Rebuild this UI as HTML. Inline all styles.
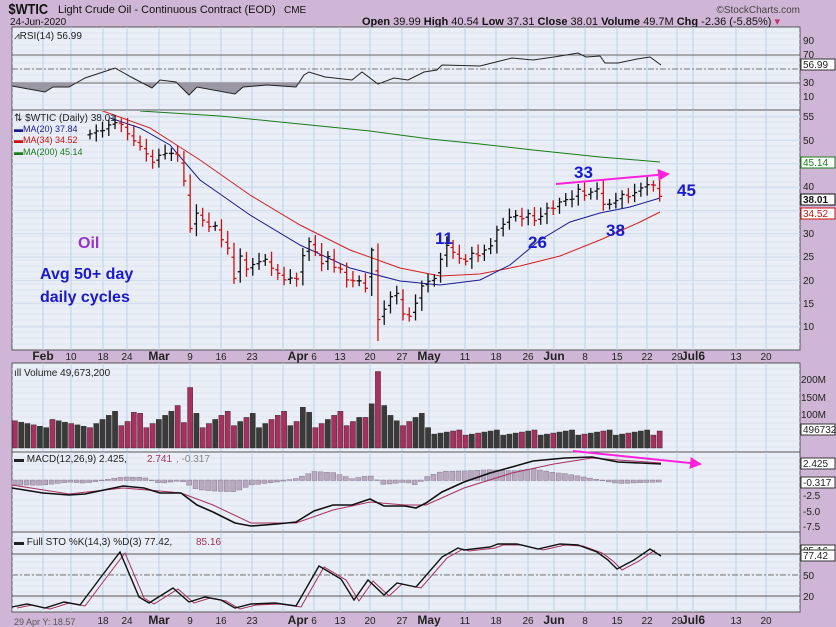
<!DOCTYPE html>
<html><head><meta charset="utf-8"><style>
html,body{margin:0;padding:0;background:#d0b6d6;}
svg{display:block;font-family:"Liberation Sans",sans-serif;}
</style></head><body>
<svg id="s" width="836" height="627" xmlns="http://www.w3.org/2000/svg">
<rect width="836" height="627" fill="#d0b6d6"/>
<g id="panels"></g>
<text x="10" y="14" font-size="15" font-weight="bold" fill="#111" transform="scale(0.85,1)">$WTIC</text>
<text x="58" y="13" font-size="11" fill="#111">Light Crude Oil - Continuous Contract (EOD)</text>
<text x="284" y="13" font-size="10" fill="#111">CME</text>
<text x="10" y="25" font-size="10" fill="#111">24-Jun-2020</text>
<text x="800" y="13" font-size="10" fill="#444" text-anchor="end">©StockCharts.com</text>
<text x="362" y="25" font-size="11" fill="#111"><tspan font-weight="bold">Open</tspan> 39.99 <tspan font-weight="bold">High</tspan> 40.54 <tspan font-weight="bold">Low</tspan> 37.31 <tspan font-weight="bold">Close</tspan> 38.01 <tspan font-weight="bold">Volume</tspan> 49.7M <tspan font-weight="bold">Chg</tspan> -2.36 (-5.85%) <tspan fill="#c03070">▾</tspan></text>
</svg>
<script>
const S=document.getElementById('s'),P=document.getElementById('panels');
const NS='http://www.w3.org/2000/svg';
function el(t,a,p){const e=document.createElementNS(NS,t);for(const k in a)e.setAttribute(k,a[k]);(p||S).appendChild(e);return e;}
function txt(x,y,s,a){const e=el('text',Object.assign({x:x,y:y,'font-size':10,fill:'#222'},a||{}));e.textContent=s;return e;}
const L=12,R=800;
const dates=[[43,'Feb',1],[71,'10'],[103,'18'],[127,'24'],[159,'Mar',1],[190,'9'],[221,'16'],[252,'23'],[298,'Apr',1],[314,'6'],[340,'13'],[370,'20'],[402,'27'],[429,'May',1],[465,'11'],[496,'18'],[528,'26'],[554,'Jun',1],[585,'8'],[617,'15'],[647,'22'],[677,'29'],[693,'Jul6',1],[736,'13'],[766,'20']];
const vlines=[43,71,103,127,159,190,221,252,283,314,340,370,402,429,465,496,528,554,585,617,647,677,693,736,766];
function panel(y0,y1,hl){
  el('rect',{x:L,y:y0,width:R-L,height:y1-y0,fill:'#eaeef6',stroke:'#555','stroke-width':1});
  for(let y=y0+6;y<y1;y+=6)el('line',{x1:L,x2:R,y1:y,y2:y,stroke:'#dde4f0','stroke-width':1});
  vlines.forEach(x=>el('line',{x1:x,x2:x,y1:y0,y2:y1,stroke:'#b8d4ea','stroke-width':1}));
  (hl||[]).forEach(h=>el('line',{x1:L,x2:R,y1:h[0],y2:h[0],stroke:h[1]||'#777','stroke-width':1,'stroke-dasharray':h[2]||''}));
}
function pl(pts,c,w){el('polyline',{points:pts.map(p=>p.join(',')).join(' '),fill:'none',stroke:c,'stroke-width':w||1});}
function box(x,y,s,c,b){el('rect',{x:x,y:y-8,width:34,height:11,fill:'#fff',stroke:c||'#333'});txt(x+2,y+1,s,{fill:c||'#222','font-weight':b?'bold':'normal'});}
// RSI
panel(27,110,[[55,'#666'],[83,'#666'],[69,'#777','6,2,2,2']]);
const rsi=[[12,86],[45,92],[53,87],[69,87],[85,78],[115,68],[131,77],[152,88],[160,80],[176,82],[189,95],[197,87],[235,94],[243,87],[267,85],[296,87],[304,75],[309,72],[325,77],[352,80],[362,72],[378,84],[394,78],[408,80],[424,72],[437,70],[442,65],[480,66],[496,62],[512,58],[533,60],[554,57],[578,53],[586,57],[600,56],[605,63],[618,63],[637,59],[650,57],[661,65]];
el('clipPath',{id:'c30'});el('rect',{x:0,y:83,width:836,height:30},document.getElementById('c30'));
el('polygon',{points:rsi.map(p=>p.join(',')).join(' ')+' 661,83 12,83',fill:'#9a96a4','clip-path':'url(#c30)'});
pl(rsi,'#222',1);
txt(14,39,'⩘RSI(14) 56.99',{'font-size':10});
[[90,44],[70,58],[30,86],[10,100]].forEach(a=>txt(803,a[1],String(a[0])));
box(801,67,'56.99');
// main
panel(110,350,[]);
const yp=p=>117+(55-p)*4.667;
for(let p=10;p<=55;p+=5){el('line',{x1:L,x2:R,y1:yp(p),y2:yp(p),stroke:'#d0dcea'});}
const C=[51.4,52.0,52.1,53.3,53.8,53.4,51.4,49.9,48.7,47.1,45.3,46.8,47.2,47.2,46.8,41.3,31.1,34.4,32.9,31.5,31.7,28.7,26.9,20.4,25.2,22.4,23.4,24.0,24.5,22.6,21.5,20.1,20.5,20.3,25.3,28.3,26.1,23.6,25.1,22.8,22.4,20.1,19.9,19.9,18.3,26.5,11.6,13.8,16.5,17.2,12.8,12.3,15.1,18.8,19.8,20.4,24.5,27.5,26.0,24.7,24.1,25.8,25.3,26.5,27.4,30.8,32.0,33.5,33.9,33.2,34.3,32.8,33.7,35.5,35.4,36.8,37.3,37.4,39.5,38.2,38.9,39.6,36.3,36.3,37.1,38.4,37.9,38.8,39.8,40.5,40.4,38.0];
const cp=el('clipPath',{id:'cm'});el('rect',{x:L,y:111,width:R-L,height:238},cp);
const g=el('g',{'clip-path':'url(#cm)'});
function plg(pts,c,w){el('polyline',{points:pts.map(p=>p.join(',')).join(' '),fill:'none',stroke:c,'stroke-width':w||1},g);}
plg([[140,111],[220,116],[300,124],[370,131],[430,139],[480,144],[533,150],[600,157],[660,162]],'#1a7a1a',1);
plg([[100,110],[150,128],[200,160],[250,195],[300,225],[350,250],[400,268],[440,276],[480,274],[520,266],[560,256],[600,240],[640,222],[660,212]],'#d42020',1);
plg([[110,118],[140,128],[170,145],[200,180],[250,215],[300,245],[350,268],[400,281],[440,285],[480,280],[510,265],[540,240],[570,222],[600,213],[630,207],[660,198]],'#1a1a90',1);
for(let i=0;i<C.length;i++){
  const x=90+i*6.26,c=C[i],pr=i?C[i-1]:c-0.3,o=pr+(c-pr)*0.3;
  let hi=Math.max(c,pr)+0.9+((i*7)%5)*0.25,lo=Math.min(c,pr)-0.9-((i*3)%4)*0.25;
  if(i==46)lo=7;if(i==45)hi=27;
  const col=c<pr?'#cc1111':'#111';
  el('line',{x1:x,x2:x,y1:yp(hi),y2:yp(lo),stroke:col,'stroke-width':1.3},g);
  el('line',{x1:x-2.5,x2:x,y1:yp(o),y2:yp(o),stroke:col,'stroke-width':1.3},g);
  el('line',{x1:x,x2:x+2.5,y1:yp(c),y2:yp(c),stroke:col,'stroke-width':1.3},g);
}
txt(14,121,'⇅ $WTIC (Daily) 38.01');
txt(14,132,'▬MA(20) 37.84',{fill:'#1a1a90','font-size':9});
txt(14,143,'▬MA(34) 34.52',{fill:'#cc1111','font-size':9});
txt(14,155,'▬MA(200) 45.14',{fill:'#1a7a1a','font-size':9});
[[55,120],[50,144],[40,190],[30,237],[25,260],[20,284],[15,307],[10,330]].forEach(a=>txt(803,a[1],String(a[0])));
box(801,165,'45.14','#1a7a1a');box(801,202,'38.01','#111',1);box(801,216,'34.52','#cc1111');
const bl={fill:'#1a1acc','font-size':17,'font-weight':'bold'};
txt(574,178,'33',bl);txt(677,196,'45',bl);txt(606,236,'38',bl);txt(528,248,'26',bl);txt(435,244,'11',bl);
txt(78,248,'Oil',{fill:'#9932cc','font-size':16,'font-weight':'bold'});
txt(40,279,'Avg 50+ day',{fill:'#1a1acc','font-size':16,'font-weight':'bold'});
txt(40,302,'daily cycles',{fill:'#1a1acc','font-size':16,'font-weight':'bold'});
el('defs',{}).innerHTML='<marker id="ar" markerWidth="6" markerHeight="6" refX="5" refY="3" orient="auto"><path d="M0,0 L6,3 L0,6z" fill="#ff22dd"/></marker>';
el('line',{x1:556,y1:184,x2:668,y2:174,stroke:'#ff22dd','stroke-width':2,'marker-end':'url(#ar)'});
function axis(y,first){dates.forEach(d=>{if(first&&d[0]<90)return;txt(d[0],y,d[1],{'font-size':d[2]?12:10,'font-weight':d[2]?'bold':'normal','text-anchor':'middle',fill:'#222'});});}
axis(360);
// volume
panel(363,452,[]);
for(let i=-12;i<C.length;i++){
  const x=90+i*6.26;let v;
  if(i<0)v=60+((i*13)%7+7)%7*4;
  else if(i<55)v=60+((i*11)%9)*6;
  else v=38+((i*7)%6)*3;
  const sp={15:75,16:178,14:125,7:105,34:120,45:130,46:225,47:125,44:90,35:105,49:80};
  if(sp[i])v=sp[i];if(i==C.length-1)v=50;
  const down=i>0&&i<C.length?C[i]<C[i-1]:(i%3==0);
  const h=v*0.34;
  el('rect',{x:x-2.6,y:448-h,width:5.2,height:h,fill:down?'#a8305e':'#3a3a3a',stroke:'#222','stroke-width':0.4});
}
txt(14,376,'ıll Volume 49,673,200');
[['200M',383],['150M',401],['100M',418]].forEach(a=>txt(801,a[1],a[0]));
box(801,432,'496732');
// MACD
panel(452,532,[]);
const mac=[[12,488],[43,493],[69,495],[85,494],[123,486],[144,488],[160,493],[181,493],[197,505],[213,512],[235,523],[251,526],[277,524],[296,522],[314,511],[333,505],[352,505],[370,499],[384,506],[405,506],[416,508],[426,503],[442,492],[464,482],[490,473],[512,467],[533,461],[565,458],[592,457],[618,462],[640,463],[661,464]];
const sig=[[12,485],[69,494],[123,488],[160,491],[181,493],[213,505],[251,523],[296,523],[333,510],[370,502],[405,505],[426,505],[464,488],[512,473],[554,464],[592,458],[618,460],[661,463]];
function interp(a,x){for(let i=1;i<a.length;i++)if(a[i][0]>=x){const p=a[i-1],q=a[i];return p[1]+(q[1]-p[1])*(x-p[0])/(q[0]-p[0]);}return a[a.length-1][1];}
for(let x=14;x<=661;x+=6.26){const d=(interp(sig,x)-interp(mac,x))*1.5;const y0=480;el('rect',{x:x-2.5,y:Math.min(y0,y0-d),width:5,height:Math.abs(d)+0.5,fill:'#b8a8c0',stroke:'#776a80','stroke-width':0.4});}
pl(sig,'#a8305e',1);pl(mac,'#111',1.6);
txt(14,462,'▬ MACD(12,26,9) 2.425, ');txt(147,462,'2.741',{fill:'#a8305e'});txt(176,462,', -0.317',{fill:'#888'});
box(801,466,'2.425');box(801,485,'-0.317');
[['-2.5',499],['-5.0',515],['-7.5',530]].forEach(a=>txt(803,a[1],a[0]));
el('line',{x1:573,y1:451,x2:700,y2:464,stroke:'#ff22dd','stroke-width':2,'marker-end':'url(#ar)'});
// STO
panel(532,612,[[554,'#555'],[596,'#555'],[575,'#777','6,2,2,2']]);
const K=[[12,607],[27,604],[45,608],[64,602],[80,605],[101,577],[120,552],[139,597],[149,603],[173,588],[189,602],[205,597],[221,600],[235,608],[251,604],[275,603],[296,606],[319,566],[341,579],[354,600],[368,580],[384,595],[397,583],[416,587],[442,557],[458,548],[464,550],[490,547],[498,544],[517,544],[538,549],[560,544],[578,545],[597,552],[608,560],[617,569],[634,560],[650,549],[661,556]];
pl(K.map(p=>[p[0]+5,p[1]+1]).filter(p=>p[0]<=662),'#a8305e',1);pl(K,'#111',1.4);
txt(14,545,'▬ Full STO %K(14,3) %D(3) 77.42, ');txt(196,545,'85.16',{fill:'#a8305e'});
box(801,553,'85.16');box(801,558,'77.42');
txt(803,579,'50');txt(803,600,'20');
axis(624,true);
txt(14,625,'29 Apr Y: 18.57',{'font-size':9,fill:'#555'});
</script>
</body></html>
